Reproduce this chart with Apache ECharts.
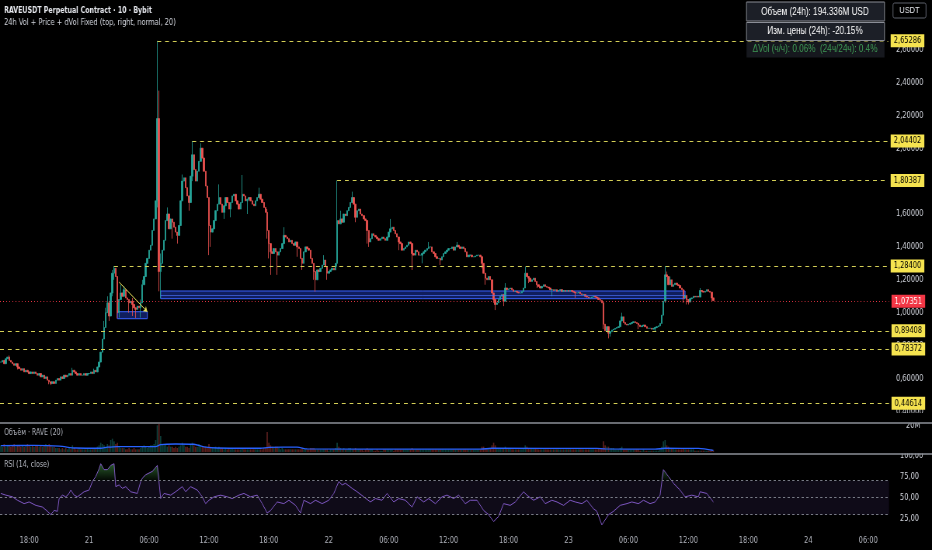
<!DOCTYPE html>
<html><head><meta charset="utf-8">
<script src="https://cdn.jsdelivr.net/npm/echarts@6/dist/echarts.min.js"></script>
<style>html,body{margin:0;padding:0;background:#000;overflow:hidden;}
#wrap{width:932px;height:550px;overflow:hidden;}
#c{width:1200px;height:550px;transform:scaleX(0.776667);transform-origin:0 0;}</style>
</head><body><div id="wrap"><div id="c"></div></div>
<script>
// ---- data (10-minute candles, starting 20th 15:10) ----
const closes = [
0.70,0.71,0.69,0.72,0.73,0.71,0.70,0.69,0.68,0.69,
0.67,0.66,0.65,0.66,0.64,0.65,0.64,0.63,0.64,0.63,
0.64,0.63,0.62,0.63,0.61,0.62,0.60,0.61,0.59,0.58,
0.57,0.58,0.57,0.59,0.60,0.59,0.61,0.60,0.62,0.61,
0.62,0.63,0.62,0.65,0.64,0.63,0.62,0.63,0.62,0.62,
0.63,0.62,0.63,0.63,0.64,0.63,0.65,0.64,0.67,0.70,
0.76,0.84,0.91,1.00,1.06,0.98,1.12,1.24,1.27,1.22,
1.00,1.08,1.12,1.10,1.14,1.09,1.08,1.06,1.07,1.05,
1.03,1.02,1.04,1.03,1.06,1.17,1.22,1.30,1.33,1.38,
1.41,1.50,1.57,1.68,2.18,1.25,1.30,1.38,1.44,1.56,
1.60,1.51,1.57,1.55,1.52,1.49,1.47,1.53,1.68,1.80,
1.82,1.76,1.71,1.67,1.83,1.96,1.87,1.80,1.86,1.92,
2.00,1.94,1.86,1.77,1.70,1.53,1.49,1.51,1.56,1.62,
1.66,1.70,1.66,1.61,1.65,1.70,1.67,1.63,1.67,1.71,
1.72,1.68,1.66,1.63,1.67,1.72,1.71,1.68,1.69,1.70,
1.68,1.66,1.65,1.68,1.70,1.72,1.69,1.67,1.64,1.61,
1.50,1.42,1.37,1.36,1.39,1.37,1.35,1.37,1.39,1.42,
1.47,1.46,1.45,1.43,1.44,1.42,1.41,1.43,1.40,1.39,
1.33,1.30,1.37,1.40,1.39,1.38,1.33,1.30,1.25,1.20,
1.26,1.25,1.27,1.29,1.32,1.28,1.24,1.25,1.26,1.27,
1.26,1.30,1.56,1.54,1.57,1.55,1.60,1.59,1.62,1.64,
1.67,1.70,1.66,1.58,1.62,1.63,1.60,1.59,1.57,1.56,
1.50,1.43,1.45,1.48,1.47,1.46,1.45,1.44,1.45,1.46,
1.45,1.44,1.46,1.49,1.51,1.52,1.50,1.48,1.46,1.43,
1.42,1.38,1.39,1.40,1.41,1.43,1.42,1.36,1.35,1.38,
1.37,1.35,1.35,1.36,1.37,1.38,1.39,1.40,1.40,1.37,
1.36,1.34,1.33,1.33,1.32,1.34,1.36,1.37,1.38,1.39,
1.39,1.40,1.38,1.40,1.41,1.40,1.39,1.40,1.39,1.37,
1.34,1.35,1.35,1.34,1.34,1.345,1.35,1.35,1.34,1.30,
1.24,1.21,1.20,1.22,1.20,1.12,1.08,1.05,1.06,1.08,
1.10,1.11,1.07,1.15,1.14,1.145,1.15,1.14,1.13,1.13,
1.125,1.12,1.12,1.13,1.15,1.24,1.22,1.21,1.19,1.20,
1.21,1.19,1.17,1.16,1.15,1.16,1.17,1.16,1.155,1.15,
1.14,1.14,1.135,1.14,1.13,1.135,1.14,1.13,1.135,1.13,
1.135,1.13,1.135,1.13,1.125,1.12,1.12,1.125,1.115,1.11,
1.11,1.10,1.095,1.09,1.09,1.095,1.10,1.095,1.09,1.08,
1.075,1.06,0.93,0.89,0.915,0.875,0.885,0.895,0.90,0.905,
0.91,0.915,0.95,0.975,0.94,0.93,0.925,0.93,0.935,0.94,
0.945,0.94,0.935,0.925,0.915,0.92,0.925,0.915,0.905,0.905,
0.905,0.90,0.905,0.91,0.915,0.92,0.935,0.985,1.07,1.23,
1.22,1.17,1.20,1.16,1.17,1.18,1.17,1.165,1.15,1.14,
1.09,1.105,1.08,1.065,1.085,1.09,1.10,1.095,1.10,1.095,
1.135,1.13,1.125,1.13,1.14,1.13,1.125,1.09,1.07351];
const firstOpen = 0.70;
// notable wicks: [candle index, high, low] (0 = no wick on that side)
const wicks = [[5,0.74,0],[10,0,0.655],[29,0,0.565],[30,0,0.56],[43,0.665,0],[56,0.66,0],[62,0.95,0.86],[63,1.03,0.93],[64,1.10,0],[65,0,0.95],[67,1.26,1.10],[68,1.284,1.2],[69,1.27,0],[70,1.17,0.965],[71,0,0.97],[72,1.17,0],[74,1.16,0],[77,0,1.0],[79,1.09,0.98],[81,0,0.968],[84,1.08,0.97],[85,1.2,0],[94,2.65286,1.64],[95,2.35,1.13],[96,1.36,1.087],[100,1.64,0],[103,0,1.45],[106,0,1.42],[109,1.84,0],[113,0,1.62],[115,2.04402,1.80],[116,1.96,0],[120,2.03,0],[125,1.70,1.35],[126,0,1.40],[131,1.78,0],[134,0,1.57],[138,0,1.58],[145,1.837,0],[148,0,1.60],[155,1.76,0],[160,1.63,1.45],[161,0,1.33],[162,0,1.23],[166,0,1.23],[170,1.52,0],[178,0,1.34],[181,0,1.26],[188,0,1.20],[189,0,1.128],[194,1.35,0],[196,0,1.20],[202,1.80387,1.28],[204,1.62,0],[211,1.736,0],[213,0,1.55],[220,0,1.42],[221,0,1.40],[234,1.57,0],[239,0,1.38],[247,0,1.26],[253,0,1.30],[257,1.43,0],[264,0,1.29],[274,1.43,0],[289,0,1.27],[291,0,1.17],[296,0,1.06],[297,0,1.016],[302,0,1.04],[303,1.18,0],[315,1.28,0],[317,0,1.18],[322,0,1.15],[331,0,1.10],[345,0,1.09],[362,1.07,0.90],[365,0,0.844],[366,0,0.855],[373,1.00,0],[383,0,0.90],[393,0,0.885],[399,1.284,1.06],[400,1.25,0],[402,1.22,0],[410,0,1.06],[412,0,1.05],[413,0,1.05],[420,1.15,0],[427,0,1.07]];
// volume, millions
const volumes = [
5,4,6,4,5,5,4,5,6,4, 5,5,4,5,4,5,6,5,4,5, 4,5,5,4,5,4,5,6,5,6, 5,4,4,3,3,3,2,3,2,3,
2,3,2,5,3,2,2,3,2,2, 2,2,3,2,2,2,3,3,4,5, 7,6,5,4,6,5,9,10,8,6, 7,4,3,3,3,2,2,3,2,2,
3,2,2,2,3,4,5,4,3,4, 5,5,6,9,20,24,12,6,5,6, 4,5,4,4,3,4,3,4,5,7, 5,4,4,3,6,7,5,4,4,6,
5,4,4,4,3,6,4,3,3,4, 3,4,3,3,2,3,2,3,2,3, 2,2,2,2,2,3,2,2,2,2, 2,2,2,2,2,2,2,2,3,3,
15,7,5,4,3,4,4,3,2,3, 2,2,2,2,2,2,2,2,2,2, 2,3,2,2,2,2,3,3,3,2, 2,2,2,2,2,2,2,1,2,2,
2,3,7,4,3,2,3,2,2,3, 3,2,2,3,2,2,2,2,1,2, 3,2,2,2,1,1,2,1,1,1, 2,2,2,2,2,2,1,2,2,2,
2,2,2,2,2,2,2,3,2,2, 2,2,2,2,2,2,2,2,2,2, 2,2,2,2,2,2,2,2,2,2, 2,2,2,2,2,2,2,2,2,2,
2,2,2,2,2,2,2,2,2,4, 4,3,3,3,3,5,7,5,3,3, 3,3,3,4,3,3,3,2,2,2, 2,2,2,2,3,5,4,3,3,3,
3,3,3,2,2,2,2,2,2,2, 2,2,2,2,2,2,2,2,2,2, 2,2,2,2,2,2,2,2,2,2, 2,2,2,2,2,2,2,2,2,3,
3,3,8,5,4,4,3,3,3,2, 2,2,3,4,2,2,2,2,2,2, 2,2,2,2,1,1,2,1,1,1, 1,1,1,1,1,1,2,4,8,9,
5,4,3,3,3,2,2,2,2,2, 3,2,2,2,2,2,2,1,1,1, 1,1,1,1,1,1,1,2,1];
const volMA = [[0,4.8],[20,4.9],[35,4.4],[45,3.0],[60,2.8],[64,3.6],[70,4.1],[93,4.0],[96,5.6],[105,6.0],[116,5.8],[122,3.8],[130,3.0],[156,2.8],[161,3.5],[178,3.6],[184,2.3],[250,2.1],[288,2.1],[295,2.8],[358,2.7],[363,2.3],[393,2.1],[399,2.8],[419,2.7],[428,1.2]];
const rsiPoints = [[0,55],[3,53],[7,51],[10,47],[14,43],[17,45],[21,41],[25,39],[28,34],[30,30],[32,35],[34,34],[35,49],[37,53],[39,51],[41,55],[42,59],[44,53],[46,51],[50,57],[53,59],[55,69],[57,75],[59,84],[60,90],[62,83],[64,83],[66,88],[68,90],[69,63],[71,65],[73,61],[75,63],[78,57],[82,55],[84,69],[85,73],[87,77],[91,81],[94,88],[96,49],[98,55],[102,53],[105,57],[109,63],[111,57],[114,63],[118,59],[121,51],[123,43],[125,47],[128,51],[132,53],[136,51],[139,49],[143,53],[146,55],[150,51],[154,53],[157,43],[160,32],[162,35],[166,45],[170,43],[173,47],[177,41],[180,32],[182,47],[186,43],[189,47],[193,43],[197,47],[200,55],[203,69],[205,65],[207,67],[211,61],[214,57],[218,51],[222,45],[225,49],[229,47],[232,55],[236,45],[239,49],[243,47],[247,39],[250,51],[254,45],[257,49],[261,43],[265,51],[268,53],[272,49],[275,53],[279,43],[282,47],[286,47],[290,35],[293,30],[296,22],[299,28],[302,43],[306,41],[309,45],[314,57],[316,53],[320,47],[324,51],[327,43],[331,47],[334,45],[338,41],[342,47],[345,45],[349,43],[352,47],[356,37],[358,34],[361,18],[365,30],[368,34],[372,41],[376,43],[379,45],[383,43],[386,47],[390,43],[393,45],[396,53],[398,83],[401,75],[404,67],[408,59],[411,51],[415,53],[419,51],[420,57],[424,55],[428,45]];
const xTicks = [[17,'18:00'],[53,'21'],[89,'06:00'],[125,'12:00'],[161,'18:00'],[197,'22'],[233,'06:00'],[269,'12:00'],[305,'18:00'],[341,'23'],[377,'06:00'],[413,'12:00'],[449,'18:00'],[485,'24'],[521,'06:00']];
// levels: [value, start candle index or null for full width]
const levels = [[2.65286,94],[2.04402,115],[1.80387,202],[1.28400,68],[0.89408,null],[0.78372,null],[0.44614,null]];
const lastPrice = 1.07351;
const boxes = [[96,411,1.132,1.085],[70,88,1.006,0.9635]];
const trendLine = [[71,1.186],[88,1.006]];
const infoRows = ['Объем (24h): 194.336M USD','Изм. цены (24h): -20.15%','ΔVol (ч/ч): 0.06%  (24ч/24ч): 0.4%'];

// ---- build ----
const S = 1200/932;           // drawing is done 1200 wide and narrowed to 932 by CSS
const X = v => v*S;
const N = 534;
const cats = Array.from({length:N},(_,i)=>String(i));
const wickMap = {}; wicks.forEach(w=>wickMap[w[0]]=w);
const UP='#26a69a', DN='#ef5350';
const candles = closes.map((c,i)=>{
  const o = i===0?firstOpen:closes[i-1];
  let h=Math.max(o,c), l=Math.min(o,c);
  const w=wickMap[i]; if(w){ if(w[1]) h=Math.max(h,w[1]); if(w[2]) l=Math.min(l,w[2]); }
  return [o,c,l,h];
});
const volData = volumes.map((v,i)=>({value:v,itemStyle:{color:candles[i][1]>=candles[i][0]?'rgba(38,166,154,0.38)':'rgba(239,83,80,0.38)'}}));
const rsiOB = rsiPoints.map(p=>[p[0],Math.max(p[1],70)]);
const tickMap={}; xTicks.forEach(t=>tickMap[t[0]]=t[1]);
const FN="'DejaVu Sans Condensed','DejaVu Sans',sans-serif";
const FW="'Liberation Sans','DejaVu Sans',sans-serif";
const fmt5 = v=>Number(v).toFixed(5).replace('.',',');
const LV='#d4cf56';

const lvlLabel = (v,bg,fg)=>({show:true,position:'end',distance:X(2.5),formatter:()=>fmt5(v),backgroundColor:bg,color:fg,padding:[2,4,1,4],fontSize:9.5,fontFamily:FN});
const mlData = [];
levels.forEach(([v,s])=>{
  const ls={color:LV,type:[5,5],width:1};
  if(s===null) mlData.push({yAxis:v,lineStyle:ls,label:lvlLabel(v,'#f5e34f','#000')});
  else mlData.push([{coord:[s,v],lineStyle:ls,label:lvlLabel(v,'#f5e34f','#000')},{coord:[N-1,v]}]);
});
mlData.push({yAxis:lastPrice,lineStyle:{color:'#f23645',type:[1,3],width:1},label:lvlLabel(lastPrice,'#f23645','#fff')});
mlData.push([{coord:trendLine[0],symbol:'none',lineStyle:{color:'#e6e05a',type:'solid',width:1},label:{show:false}},{coord:trendLine[1],symbol:'arrow',symbolSize:5}]);
const mid=(boxes[0][2]+boxes[0][3])/2;
mlData.push([{coord:[boxes[0][0],mid],lineStyle:{color:'#4f74ff',type:'solid',width:0.8,opacity:0.8},label:{show:false}},{coord:[boxes[0][1],mid]}]);
const maData = boxes.map(b=>[{coord:[b[0],b[2]]},{coord:[b[1],b[3]]}]);

const RIGHT = X(43);
const chart = echarts.init(document.getElementById('c'),null,{renderer:'canvas'});
chart.setOption({
  backgroundColor:'#000',
  animation:false,
  grid:[
    {left:0,right:RIGHT,top:0,height:444.3},
    {left:0,right:RIGHT,top:424,height:28},
    {left:0,right:RIGHT,top:455.2,height:85},
    {left:0,right:RIGHT,top:530,height:1}
  ],
  xAxis:[0,1,2,3].map(g=>({type:'category',data:cats,gridIndex:g,boundaryGap:true,
    show:g===3, axisLine:{show:false},axisTick:{show:false},splitLine:{show:false},
    axisLabel:{show:g===3,interval:(i)=>tickMap[i]!==undefined,formatter:(v,i)=>tickMap[i]||'',color:'#b2b5be',fontSize:9.5,fontFamily:FN,margin:5}})),
  yAxis:[
    {type:'value',gridIndex:0,position:'right',min:0.2,max:0.2+444.3/164.5,interval:0.2,splitLine:{show:false},axisLine:{show:false},axisTick:{show:false},
     axisLabel:{formatter:v=>(v>0.39&&v<2.61)?fmt5(v):'',color:'#d1d4dc',fontSize:9.5,fontFamily:FN,margin:X(7)}},
    {type:'value',gridIndex:1,position:'right',min:0,max:21,interval:20,splitLine:{show:false},axisLine:{show:false},axisTick:{show:false},
     axisLabel:{formatter:v=>v===20?'20M':'',color:'#d1d4dc',fontSize:9.5,fontFamily:FN,margin:X(17)}},
    {type:'value',gridIndex:2,position:'right',min:0,max:100,interval:25,splitLine:{show:false},axisLine:{show:false},axisTick:{show:false},
     axisLabel:{formatter:v=>v===0?'':v.toFixed(2).replace('.',','),color:'#d1d4dc',fontSize:9.5,fontFamily:FN,margin:X(11)}},
    {type:'value',gridIndex:3,show:false}
  ],
  series:[
    {type:'candlestick',xAxisIndex:0,yAxisIndex:0,data:candles,barWidth:X(1.5),
     itemStyle:{color:UP,color0:DN,borderColor:UP,borderColor0:DN,borderWidth:0.8},
     markArea:{silent:true,itemStyle:{color:'rgba(30,55,170,0.55)',borderColor:'#3a62ff',borderWidth:1},data:maData},
     markLine:{silent:true,symbol:['none','none'],animation:false,data:mlData}},
    {type:'bar',xAxisIndex:1,yAxisIndex:1,data:volData,barWidth:X(1.3)},
    {type:'line',xAxisIndex:1,yAxisIndex:1,data:volMA,symbol:'none',smooth:0.3,lineStyle:{color:'#2962ff',width:1.3}},
    {type:'line',xAxisIndex:2,yAxisIndex:2,data:rsiOB,symbol:'none',lineStyle:{width:0},
     areaStyle:{origin:70,color:new echarts.graphic.LinearGradient(0,0,0,1,[{offset:0,color:'rgba(76,175,80,0.75)'},{offset:1,color:'rgba(76,175,80,0.05)'}])}},
    {type:'line',xAxisIndex:2,yAxisIndex:2,data:rsiPoints,symbol:'none',lineStyle:{color:'#7e57c2',width:1},
     markArea:{silent:true,itemStyle:{color:'rgba(126,87,194,0.12)'},data:[[{yAxis:30},{yAxis:70}]]},
     markLine:{silent:true,symbol:['none','none'],label:{show:false},lineStyle:{color:'#787b86',type:[3,3],width:1},data:[{yAxis:70},{yAxis:50},{yAxis:30}]}}
  ],
  graphic:{elements:[
    {type:'text',x:X(4),y:11,z:100,style:{text:'RAVEUSDT Perpetual Contract · 10 · Bybit',fill:'#e6e8ee',font:'bold 9px '+FN,verticalAlign:'middle'}},
    {type:'text',x:X(4),y:22.5,z:100,style:{text:'24h Vol + Price + dVol Fixed (top, right, normal, 20)',fill:'#d1d4dc',font:'9.5px '+FN,verticalAlign:'middle'}},
    {type:'text',x:X(4),y:433,z:100,style:{text:'Объём · RAVE (20)',fill:'#b2b5be',font:'9px '+FN,verticalAlign:'middle'}},
    {type:'text',x:X(4),y:465,z:100,style:{text:'RSI (14, close)',fill:'#b2b5be',font:'9px '+FN,verticalAlign:'middle'}},
    {type:'rect',z:100,shape:{x:X(746.5),y:2,width:X(138),height:19},style:{fill:'#1c1f27',stroke:'#8a8d96',lineWidth:1}},
    {type:'rect',z:100,shape:{x:X(746.5),y:22.5,width:X(138),height:18},style:{fill:'#1c1f27',stroke:'#8a8d96',lineWidth:1}},
    {type:'rect',z:100,shape:{x:X(746.5),y:41.5,width:X(138),height:16},style:{fill:'#16181e',stroke:null}},
    {type:'text',z:101,x:X(815),y:12,style:{text:infoRows[0],fill:'#ffffff',font:'10.5px '+FW,align:'center',verticalAlign:'middle'}},
    {type:'text',z:101,x:X(815),y:31.5,style:{text:infoRows[1],fill:'#ffffff',font:'10.5px '+FW,align:'center',verticalAlign:'middle'}},
    {type:'text',z:101,x:X(815),y:49.5,style:{text:infoRows[2],fill:'#3f9a55',font:'10.5px '+FW,align:'center',verticalAlign:'middle'}},
    {type:'rect',z:100,shape:{x:X(893),y:3,width:X(33),height:15,r:2},style:{fill:'#000',stroke:'#5d606b',lineWidth:1}},
    {type:'text',z:101,x:X(909.5),y:10.5,style:{text:'USDT',fill:'#e6e8ee',font:'9.5px '+FW,align:'center',verticalAlign:'middle'}},
    {type:'rect',z:99,shape:{x:X(890),y:413,width:X(42),height:10},style:{fill:'#000'}},
    {type:'rect',z:99,shape:{x:X(890),y:441,width:X(42),height:12.5},style:{fill:'#000'}},
    {type:'rect',z:100,shape:{x:0,y:422.3,width:1200,height:1.5},style:{fill:'#8d9099'}},
    {type:'rect',z:100,shape:{x:0,y:453.3,width:1200,height:1.5},style:{fill:'#8d9099'}}
  ]}
});
</script></body></html>
